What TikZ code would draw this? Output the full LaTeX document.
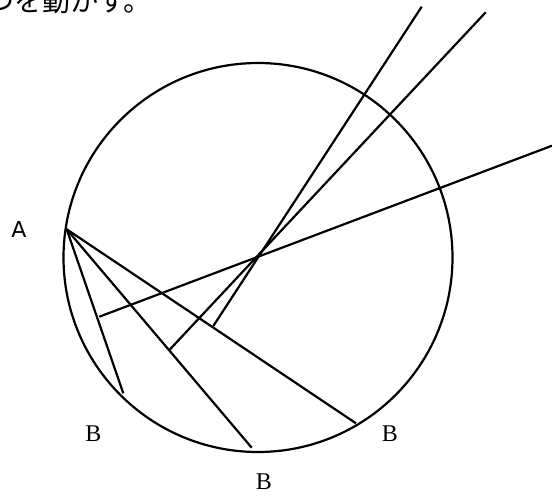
\documentclass[tikz,border=0pt]{standalone}
\usepackage{fontspec}
\newfontfamily\jpfont{Noto Sans CJK JP}
\newfontfamily\labsans{DejaVu Sans}
\newfontfamily\labserif{Liberation Serif}
\begin{document}
\begin{tikzpicture}[x=1pt,y=-1pt,
  geo/.style={line width=2.2pt, black},
  lblA/.style={font=\labsans\fontsize{22}{22}\selectfont, inner sep=0pt},
  lblB/.style={font=\labserif\fontsize{24}{24}\selectfont, inner sep=0pt}]
\useasboundingbox (0,0) rectangle (552,496);
% cut-off heading
\node[anchor=base west, inner sep=0pt, font=\jpfont\fontsize{28}{28}\selectfont] (head) at (-14,11) {つを動かす。};
% circle
\coordinate (O) at (258,257.5);
\draw[geo] (O) circle[radius=194.5pt];
% points on circle
\coordinate (A) at (66.7,229.3);
\coordinate (B1) at (123.3,393.3);
\coordinate (B2) at (251.7,447.7);
\coordinate (B3) at (356,423.3);
% chords
\draw[geo] (A) -- (B1);
\draw[geo] (A) -- (B2);
\draw[geo] (A) -- (B3);
% perpendicular bisectors
\coordinate (M1) at (99.3,316.7);
\coordinate (E1) at (552,145.7);
\coordinate (M2) at (170,349.3);
\coordinate (E2) at (485.7,12.3);
\coordinate (M3) at (213.3,326);
\coordinate (E3) at (421.7,6.7);
\draw[geo] (M1) -- (E1);
\draw[geo] (M2) -- (E2);
\draw[geo] (M3) -- (E3);
% labels
\node[lblA] (la) at (19,229) {A};
\node[lblB] (lb1) at (93.3,433.3) {B};
\node[lblB] (lb2) at (264,481.7) {B};
\node[lblB] (lb3) at (390,433.3) {B};
\end{tikzpicture}
\end{document}
